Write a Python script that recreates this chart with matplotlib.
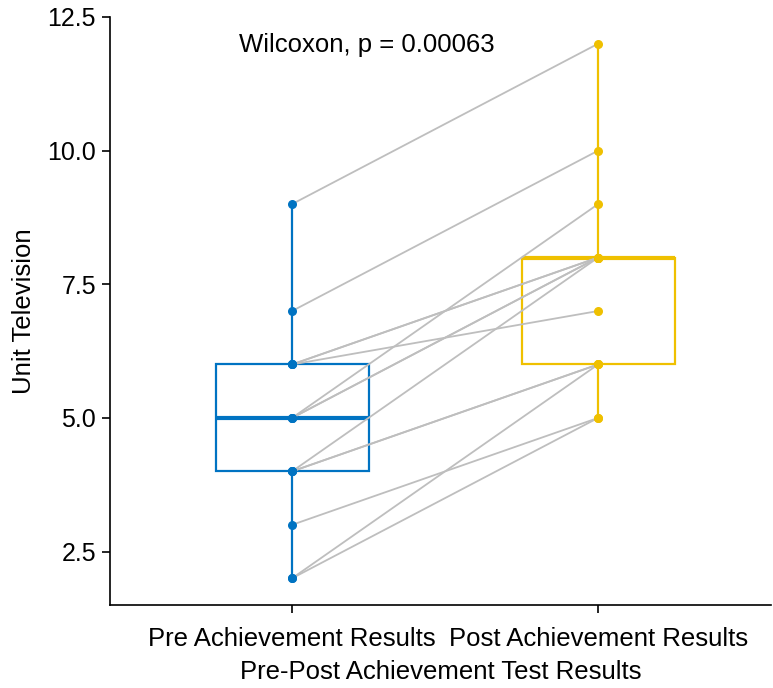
import matplotlib
matplotlib.use("Agg")
import matplotlib.pyplot as plt
import numpy as np

plt.rcParams['font.family'] = ['Liberation Sans', 'DejaVu Sans']

groups = ["Pre Achievement Results", "Post Achievement Results"]
pre = [9, 7, 6, 6, 6, 5, 5, 5, 4, 4, 4, 3, 2, 2]
post = [12, 10, 8, 8, 7, 9, 8, 8, 8, 6, 6, 5, 6, 5]
colors = ["#0073C2", "#EFC000"]
p_text = "Wilcoxon, p = 0.00063"

fig = plt.figure(figsize=(7.73, 6.88), dpi=100)
ax = fig.add_axes([110 / 773, 83 / 688, 661 / 773, 588 / 688])

pos = [1, 2]
data = [pre, post]
for i, (vals, c) in enumerate(zip(data, colors)):
    ax.boxplot([vals], positions=[pos[i]], widths=0.5, whis=(0, 100),
               showfliers=False, patch_artist=True, zorder=1,
               boxprops=dict(facecolor="white", edgecolor=c, linewidth=1.6),
               medianprops=dict(color=c, linewidth=3),
               whiskerprops=dict(color=c, linewidth=1.6),
               capprops=dict(linewidth=0))

for a, b in zip(pre, post):
    ax.plot([1, 2], [a, b], color="#BEBEBE", linewidth=1.3, zorder=2)

ax.scatter(np.full(len(pre), 1), pre, s=30, color=colors[0], zorder=3)
ax.scatter(np.full(len(post), 2), post, s=30, color=colors[1], zorder=3)

ax.text(0.825, 11.97, p_text, fontsize=18.5, ha="left", va="center")

ax.set_xlim(0.405, 2.565)
ax.set_ylim(1.5, 12.5)
ax.set_yticks([2.5, 5.0, 7.5, 10.0, 12.5])
ax.set_yticklabels(["2.5", "5.0", "7.5", "10.0", "12.5"])
ax.set_xticks(pos)
ax.set_xticklabels(groups)
ax.tick_params(axis="y", labelsize=18, length=6, width=1.2, color="black", pad=4)
ax.tick_params(axis="x", labelsize=18.5, length=6, width=1.2, color="black", pad=10)
for s in ["top", "right"]:
    ax.spines[s].set_visible(False)
for s in ["left", "bottom"]:
    ax.spines[s].set_linewidth(1.2)
ax.set_xlabel("Pre-Post Achievement Test Results", fontsize=18.5, labelpad=6)
ax.set_ylabel("Unit Television", fontsize=18.5, labelpad=8)

fig.savefig("out.png", dpi=100)
